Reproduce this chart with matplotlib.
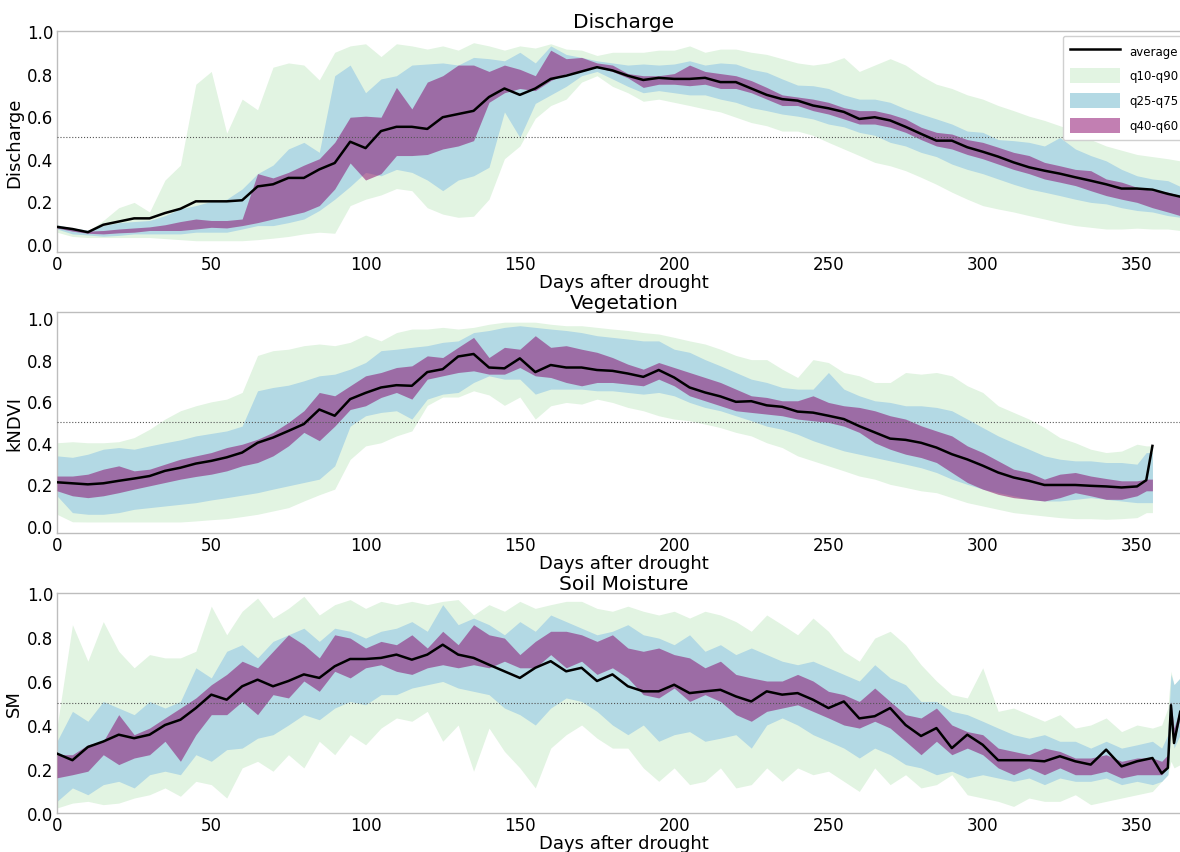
import matplotlib
matplotlib.use("Agg")
import matplotlib.pyplot as plt
from matplotlib.patches import Patch
from matplotlib.lines import Line2D

# ---------------- Discharge ----------------
dis_days = list(range(0, 361, 5)) + [364]
dis_avg = [0.08, 0.07, 0.055, 0.09, 0.105, 0.12, 0.12, 0.145, 0.165, 0.20,
           0.20, 0.20, 0.205, 0.27, 0.28, 0.31, 0.31, 0.35, 0.38, 0.48,
           0.45, 0.53, 0.55, 0.55, 0.54, 0.595, 0.61, 0.625, 0.69, 0.73,
           0.70, 0.73, 0.775, 0.79, 0.81, 0.83, 0.815, 0.79, 0.77, 0.78,
           0.775, 0.775, 0.78, 0.76, 0.76, 0.73, 0.70, 0.68, 0.673, 0.65,
           0.637, 0.62, 0.587, 0.595, 0.58, 0.55, 0.517, 0.485, 0.485, 0.454,
           0.433, 0.41, 0.383, 0.36, 0.344, 0.33, 0.313, 0.297, 0.28, 0.26,
           0.26, 0.255, 0.235, 0.222]
dis_q10 = [0.055, 0.035, 0.03, 0.03, 0.03, 0.03, 0.03, 0.025, 0.02, 0.015,
           0.015, 0.015, 0.015, 0.02, 0.027, 0.035, 0.047, 0.055, 0.05, 0.18,
           0.21, 0.23, 0.26, 0.25, 0.17, 0.14, 0.125, 0.13, 0.21, 0.40,
           0.46, 0.59, 0.65, 0.68, 0.76, 0.79, 0.74, 0.71, 0.67, 0.68,
           0.665, 0.65, 0.634, 0.62, 0.595, 0.57, 0.555, 0.53, 0.53, 0.51,
           0.477, 0.446, 0.415, 0.383, 0.367, 0.344, 0.313, 0.28, 0.243, 0.21,
           0.18, 0.164, 0.15, 0.133, 0.117, 0.10, 0.086, 0.078, 0.07, 0.07,
           0.074, 0.07, 0.07, 0.063]
dis_q25 = [0.07, 0.047, 0.042, 0.036, 0.04, 0.047, 0.047, 0.047, 0.047, 0.055,
           0.055, 0.055, 0.07, 0.086, 0.086, 0.10, 0.117, 0.157, 0.21, 0.27,
           0.336, 0.32, 0.35, 0.336, 0.30, 0.25, 0.30, 0.32, 0.36, 0.62,
           0.50, 0.66, 0.70, 0.74, 0.79, 0.81, 0.775, 0.74, 0.71, 0.72,
           0.71, 0.70, 0.70, 0.68, 0.665, 0.64, 0.626, 0.61, 0.60, 0.587,
           0.563, 0.55, 0.524, 0.51, 0.477, 0.46, 0.43, 0.41, 0.375, 0.35,
           0.33, 0.305, 0.28, 0.258, 0.243, 0.227, 0.21, 0.195, 0.188, 0.17,
           0.157, 0.15, 0.133, 0.125]
dis_q40 = [0.075, 0.06, 0.05, 0.047, 0.052, 0.055, 0.063, 0.063, 0.063, 0.07,
           0.078, 0.075, 0.086, 0.10, 0.117, 0.133, 0.15, 0.18, 0.258, 0.38,
           0.30, 0.33, 0.415, 0.415, 0.42, 0.446, 0.46, 0.485, 0.665, 0.71,
           0.73, 0.72, 0.767, 0.80, 0.81, 0.83, 0.81, 0.78, 0.735, 0.75,
           0.75, 0.743, 0.75, 0.73, 0.73, 0.71, 0.68, 0.65, 0.65, 0.626,
           0.61, 0.587, 0.563, 0.563, 0.548, 0.524, 0.49, 0.46, 0.446, 0.42,
           0.40, 0.375, 0.35, 0.33, 0.305, 0.29, 0.274, 0.25, 0.227, 0.21,
           0.195, 0.17, 0.15, 0.133]
dis_q60 = [0.085, 0.07, 0.06, 0.063, 0.07, 0.075, 0.08, 0.09, 0.105, 0.117,
           0.11, 0.11, 0.117, 0.33, 0.31, 0.336, 0.37, 0.40, 0.477, 0.595,
           0.60, 0.595, 0.735, 0.634, 0.76, 0.79, 0.84, 0.84, 0.81, 0.84,
           0.82, 0.79, 0.91, 0.87, 0.876, 0.85, 0.84, 0.80, 0.79, 0.79,
           0.80, 0.84, 0.81, 0.80, 0.79, 0.767, 0.735, 0.70, 0.69, 0.68,
           0.665, 0.64, 0.626, 0.626, 0.61, 0.587, 0.548, 0.524, 0.516, 0.49,
           0.477, 0.454, 0.43, 0.415, 0.383, 0.367, 0.35, 0.344, 0.305, 0.29,
           0.266, 0.25, 0.243, 0.227]
dis_q75 = [0.09, 0.075, 0.065, 0.086, 0.10, 0.105, 0.11, 0.133, 0.165, 0.18,
           0.20, 0.21, 0.258, 0.33, 0.37, 0.446, 0.477, 0.43, 0.79, 0.84,
           0.71, 0.775, 0.79, 0.84, 0.845, 0.85, 0.84, 0.876, 0.87, 0.86,
           0.90, 0.85, 0.93, 0.89, 0.876, 0.86, 0.85, 0.84, 0.845, 0.84,
           0.845, 0.86, 0.84, 0.85, 0.845, 0.82, 0.806, 0.775, 0.746, 0.743,
           0.73, 0.70, 0.68, 0.68, 0.665, 0.634, 0.61, 0.587, 0.563, 0.53,
           0.524, 0.49, 0.485, 0.477, 0.46, 0.50, 0.446, 0.415, 0.39, 0.35,
           0.32, 0.305, 0.297, 0.27]
dis_q90 = [0.09, 0.07, 0.06, 0.11, 0.17, 0.195, 0.15, 0.30, 0.37, 0.75,
           0.81, 0.52, 0.68, 0.63, 0.83, 0.85, 0.84, 0.77, 0.90, 0.93,
           0.94, 0.88, 0.94, 0.93, 0.915, 0.93, 0.91, 0.945, 0.93, 0.91,
           0.93, 0.92, 0.94, 0.915, 0.91, 0.885, 0.90, 0.90, 0.90, 0.91,
           0.91, 0.93, 0.90, 0.915, 0.915, 0.90, 0.89, 0.87, 0.85, 0.84,
           0.85, 0.875, 0.81, 0.84, 0.87, 0.84, 0.79, 0.75, 0.73, 0.70,
           0.68, 0.65, 0.626, 0.60, 0.58, 0.555, 0.53, 0.49, 0.46, 0.44,
           0.42, 0.41, 0.40, 0.39]

# ---------------- Vegetation ----------------
veg_days = list(range(0, 351, 5)) + [353, 355]
veg_avg = [0.21, 0.205, 0.20, 0.205, 0.217, 0.228, 0.24, 0.265, 0.28, 0.30,
           0.313, 0.33, 0.353, 0.40, 0.425, 0.457, 0.49, 0.56, 0.53, 0.61,
           0.64, 0.666, 0.677, 0.674, 0.74, 0.754, 0.815, 0.827, 0.762, 0.758,
           0.806, 0.74, 0.774, 0.762, 0.762, 0.75, 0.746, 0.733, 0.717, 0.75,
           0.714, 0.666, 0.642, 0.623, 0.597, 0.60, 0.58, 0.573, 0.55, 0.545,
           0.53, 0.514, 0.48, 0.45, 0.42, 0.414, 0.40, 0.377, 0.345, 0.32,
           0.29, 0.257, 0.233, 0.217, 0.197, 0.197, 0.197, 0.193, 0.19, 0.185,
           0.19, 0.22, 0.385]
veg_q10 = [0.056, 0.02, 0.019, 0.019, 0.019, 0.019, 0.019, 0.019, 0.019, 0.024,
           0.03, 0.035, 0.045, 0.056, 0.072, 0.088, 0.12, 0.15, 0.177, 0.32,
           0.385, 0.40, 0.433, 0.457, 0.58, 0.62, 0.62, 0.65, 0.63, 0.58,
           0.62, 0.514, 0.578, 0.594, 0.586, 0.61, 0.594, 0.57, 0.554, 0.53,
           0.514, 0.506, 0.49, 0.473, 0.45, 0.433, 0.40, 0.377, 0.337, 0.313,
           0.289, 0.265, 0.24, 0.225, 0.20, 0.185, 0.169, 0.16, 0.136, 0.112,
           0.096, 0.08, 0.064, 0.056, 0.048, 0.04, 0.035, 0.035, 0.032, 0.035,
           0.04, 0.064, 0.064]
veg_q25 = [0.145, 0.064, 0.056, 0.056, 0.064, 0.08, 0.088, 0.096, 0.104, 0.112,
           0.125, 0.136, 0.148, 0.16, 0.177, 0.193, 0.209, 0.225, 0.289, 0.48,
           0.53, 0.546, 0.554, 0.514, 0.61, 0.634, 0.642, 0.69, 0.722, 0.706,
           0.706, 0.634, 0.658, 0.658, 0.658, 0.65, 0.65, 0.642, 0.634, 0.642,
           0.626, 0.594, 0.57, 0.554, 0.53, 0.506, 0.48, 0.465, 0.441, 0.41,
           0.385, 0.361, 0.345, 0.329, 0.313, 0.297, 0.28, 0.257, 0.225, 0.20,
           0.177, 0.16, 0.145, 0.128, 0.12, 0.12, 0.128, 0.136, 0.128, 0.12,
           0.112, 0.112, 0.112]
veg_q40 = [0.169, 0.145, 0.136, 0.145, 0.16, 0.177, 0.193, 0.209, 0.225, 0.238,
           0.249, 0.265, 0.289, 0.305, 0.337, 0.385, 0.45, 0.41, 0.48, 0.56,
           0.578, 0.618, 0.642, 0.61, 0.706, 0.722, 0.738, 0.746, 0.73, 0.73,
           0.762, 0.722, 0.714, 0.69, 0.674, 0.69, 0.69, 0.682, 0.674, 0.706,
           0.674, 0.626, 0.602, 0.578, 0.554, 0.546, 0.538, 0.53, 0.514, 0.506,
           0.498, 0.48, 0.45, 0.40, 0.369, 0.345, 0.329, 0.305, 0.257, 0.209,
           0.177, 0.152, 0.136, 0.128, 0.12, 0.136, 0.16, 0.145, 0.128, 0.128,
           0.145, 0.169, 0.169]
veg_q60 = [0.24, 0.24, 0.249, 0.273, 0.289, 0.265, 0.273, 0.297, 0.321, 0.337,
           0.353, 0.377, 0.393, 0.417, 0.45, 0.498, 0.554, 0.642, 0.626, 0.674,
           0.722, 0.738, 0.762, 0.77, 0.818, 0.81, 0.859, 0.907, 0.81, 0.859,
           0.85, 0.915, 0.859, 0.867, 0.85, 0.835, 0.81, 0.778, 0.754, 0.786,
           0.762, 0.738, 0.714, 0.69, 0.658, 0.626, 0.618, 0.602, 0.602, 0.626,
           0.594, 0.578, 0.57, 0.554, 0.53, 0.514, 0.482, 0.457, 0.433, 0.385,
           0.353, 0.313, 0.273, 0.257, 0.225, 0.249, 0.257, 0.24, 0.228, 0.217,
           0.217, 0.225, 0.225]
veg_q75 = [0.337, 0.33, 0.345, 0.369, 0.377, 0.369, 0.385, 0.40, 0.414, 0.433,
           0.445, 0.457, 0.48, 0.65, 0.666, 0.677, 0.698, 0.722, 0.73, 0.754,
           0.786, 0.843, 0.85, 0.859, 0.867, 0.883, 0.89, 0.93, 0.94, 0.955,
           0.963, 0.955, 0.947, 0.94, 0.93, 0.915, 0.907, 0.899, 0.89, 0.89,
           0.85, 0.835, 0.80, 0.77, 0.738, 0.706, 0.69, 0.666, 0.658, 0.658,
           0.738, 0.658, 0.626, 0.602, 0.594, 0.578, 0.578, 0.57, 0.554, 0.514,
           0.473, 0.433, 0.40, 0.369, 0.337, 0.321, 0.313, 0.313, 0.305, 0.305,
           0.297, 0.353, 0.353]
veg_q90 = [0.40, 0.405, 0.40, 0.40, 0.405, 0.425, 0.465, 0.514, 0.554, 0.578,
           0.597, 0.61, 0.642, 0.82, 0.843, 0.85, 0.867, 0.875, 0.867, 0.883,
           0.918, 0.89, 0.93, 0.947, 0.947, 0.955, 0.947, 0.955, 0.97, 0.98,
           0.98, 0.98, 0.97, 0.963, 0.963, 0.955, 0.947, 0.94, 0.93, 0.923,
           0.907, 0.89, 0.875, 0.85, 0.82, 0.80, 0.80, 0.754, 0.714, 0.80,
           0.786, 0.738, 0.722, 0.69, 0.69, 0.738, 0.73, 0.738, 0.722, 0.674,
           0.642, 0.578, 0.546, 0.514, 0.473, 0.425, 0.40, 0.369, 0.353, 0.36,
           0.393, 0.385, 0.385]

# ---------------- Soil Moisture ----------------
sm_days = list(range(0, 356, 5)) + [358, 360, 361, 362, 364]
sm_avg = [0.27, 0.24, 0.30, 0.325, 0.356, 0.34, 0.356, 0.40, 0.424, 0.477,
          0.538, 0.515, 0.576, 0.606, 0.576, 0.60, 0.63, 0.614, 0.667, 0.70,
          0.70, 0.705, 0.72, 0.697, 0.72, 0.765, 0.72, 0.705, 0.674, 0.644,
          0.614, 0.66, 0.69, 0.644, 0.66, 0.60, 0.63, 0.576, 0.553, 0.553,
          0.583, 0.545, 0.553, 0.56, 0.53, 0.507, 0.553, 0.538, 0.545, 0.515,
          0.477, 0.507, 0.43, 0.44, 0.477, 0.40, 0.35, 0.386, 0.295, 0.356,
          0.31, 0.24, 0.24, 0.24, 0.235, 0.258, 0.235, 0.22, 0.288, 0.212,
          0.235, 0.25, 0.18, 0.205, 0.49, 0.318, 0.46]
sm_q10 = [0.023, 0.045, 0.053, 0.038, 0.045, 0.068, 0.083, 0.114, 0.076, 0.144,
          0.129, 0.068, 0.205, 0.235, 0.19, 0.265, 0.205, 0.326, 0.265, 0.356,
          0.31, 0.386, 0.432, 0.417, 0.462, 0.326, 0.40, 0.19, 0.386, 0.28,
          0.205, 0.114, 0.295, 0.356, 0.40, 0.34, 0.295, 0.295, 0.205, 0.144,
          0.205, 0.129, 0.144, 0.205, 0.114, 0.129, 0.205, 0.144, 0.205, 0.174,
          0.19, 0.144, 0.098, 0.205, 0.129, 0.174, 0.114, 0.129, 0.174, 0.083,
          0.068, 0.053, 0.03, 0.068, 0.053, 0.053, 0.083, 0.038, 0.053, 0.068,
          0.083, 0.098, 0.144, 0.174, 0.235, 0.205, 0.22]
sm_q25 = [0.053, 0.114, 0.083, 0.129, 0.144, 0.114, 0.174, 0.19, 0.174, 0.265,
          0.235, 0.288, 0.295, 0.34, 0.356, 0.40, 0.447, 0.424, 0.477, 0.507,
          0.492, 0.538, 0.538, 0.568, 0.583, 0.598, 0.568, 0.553, 0.538, 0.477,
          0.447, 0.40, 0.477, 0.523, 0.507, 0.462, 0.40, 0.356, 0.40, 0.326,
          0.356, 0.37, 0.326, 0.34, 0.356, 0.295, 0.40, 0.432, 0.40, 0.356,
          0.326, 0.295, 0.25, 0.295, 0.265, 0.22, 0.205, 0.174, 0.19, 0.159,
          0.174, 0.159, 0.144, 0.159, 0.129, 0.159, 0.144, 0.144, 0.159, 0.129,
          0.144, 0.129, 0.144, 0.174, 0.386, 0.295, 0.356]
sm_q40 = [0.16, 0.174, 0.19, 0.265, 0.22, 0.25, 0.265, 0.326, 0.235, 0.356,
          0.447, 0.447, 0.507, 0.447, 0.538, 0.523, 0.60, 0.553, 0.644, 0.614,
          0.66, 0.674, 0.644, 0.63, 0.66, 0.674, 0.66, 0.674, 0.66, 0.69,
          0.66, 0.66, 0.72, 0.66, 0.69, 0.63, 0.66, 0.614, 0.538, 0.523,
          0.568, 0.507, 0.538, 0.507, 0.447, 0.417, 0.462, 0.477, 0.492, 0.462,
          0.432, 0.40, 0.386, 0.417, 0.386, 0.326, 0.265, 0.326, 0.265, 0.295,
          0.265, 0.205, 0.174, 0.205, 0.174, 0.205, 0.174, 0.174, 0.19, 0.159,
          0.174, 0.174, 0.174, 0.205, 0.477, 0.326, 0.432]
sm_q60 = [0.265, 0.265, 0.31, 0.326, 0.447, 0.356, 0.386, 0.432, 0.477, 0.523,
          0.583, 0.63, 0.69, 0.66, 0.735, 0.81, 0.765, 0.705, 0.81, 0.795,
          0.75, 0.78, 0.765, 0.81, 0.75, 0.826, 0.765, 0.856, 0.81, 0.795,
          0.72, 0.78, 0.826, 0.826, 0.81, 0.78, 0.81, 0.75, 0.735, 0.75,
          0.72, 0.705, 0.66, 0.69, 0.63, 0.614, 0.60, 0.60, 0.63, 0.60,
          0.553, 0.538, 0.507, 0.568, 0.507, 0.447, 0.432, 0.477, 0.40, 0.37,
          0.356, 0.295, 0.28, 0.265, 0.295, 0.28, 0.25, 0.25, 0.265, 0.235,
          0.25, 0.25, 0.235, 0.265, 0.507, 0.386, 0.477]
sm_q75 = [0.326, 0.462, 0.417, 0.507, 0.477, 0.447, 0.507, 0.477, 0.507, 0.66,
          0.614, 0.735, 0.765, 0.705, 0.78, 0.81, 0.84, 0.78, 0.84, 0.826,
          0.795, 0.826, 0.84, 0.87, 0.826, 0.947, 0.856, 0.886, 0.856, 0.81,
          0.87, 0.826, 0.90, 0.87, 0.84, 0.81, 0.826, 0.856, 0.81, 0.795,
          0.765, 0.81, 0.735, 0.765, 0.72, 0.75, 0.72, 0.69, 0.674, 0.69,
          0.66, 0.63, 0.60, 0.674, 0.614, 0.583, 0.507, 0.507, 0.462, 0.447,
          0.417, 0.386, 0.356, 0.34, 0.356, 0.326, 0.326, 0.295, 0.326, 0.295,
          0.31, 0.326, 0.295, 0.356, 0.63, 0.583, 0.614]
sm_q90 = [0.39, 0.856, 0.69, 0.87, 0.735, 0.66, 0.72, 0.705, 0.705, 0.735,
          0.94, 0.81, 0.917, 0.977, 0.886, 0.93, 0.985, 0.90, 0.947, 0.97,
          0.93, 0.962, 0.947, 0.962, 0.947, 0.962, 0.97, 0.90, 0.947, 0.917,
          0.962, 0.93, 0.947, 0.962, 0.962, 0.93, 0.917, 0.94, 0.917, 0.90,
          0.917, 0.886, 0.917, 0.90, 0.87, 0.826, 0.90, 0.856, 0.81, 0.886,
          0.826, 0.735, 0.69, 0.795, 0.826, 0.765, 0.674, 0.60, 0.538, 0.523,
          0.66, 0.462, 0.477, 0.447, 0.417, 0.447, 0.386, 0.40, 0.432, 0.37,
          0.40, 0.386, 0.40, 0.477, 0.644, 0.583, 0.614]

titles = ["Discharge", "Vegetation", "Soil Moisture"]
ylabels = ["Discharge", "kNDVI", "SM"]
xlabel = "Days after drought"
legend_labels = ["average", "q10-q90", "q25-q75", "q40-q60"]
yticks = [0.0, 0.2, 0.4, 0.6, 0.8, 1.0]
xticks = [0, 50, 100, 150, 200, 250, 300, 350]

panels = [
    (dis_days, dis_avg, dis_q10, dis_q25, dis_q40, dis_q60, dis_q75, dis_q90),
    (veg_days, veg_avg, veg_q10, veg_q25, veg_q40, veg_q60, veg_q75, veg_q90),
    (sm_days, sm_avg, sm_q10, sm_q25, sm_q40, sm_q60, sm_q75, sm_q90),
]

C_GREEN = "#e2f4e2"
C_BLUE = "#b3d9e4"
C_PURPLE = (135 / 255, 0.0, 103 / 255)
PURPLE_ALPHA = 0.5
SPINE = "#bdbdbd"

W, H = 1180, 853
fig = plt.figure(figsize=(W / 100, H / 100), dpi=100)

# pixel boxes (top, bottom) of each axes, and y-limits
boxes = [(32, 253), (313, 534), (594, 814)]
ylims = [(-0.038, 1.0), (-0.034, 1.029), (0.0, 1.0)]
LEFT, RIGHT = 57, 1191

for i, (box, ylim) in enumerate(zip(boxes, ylims)):
    top, bottom = box
    ax = fig.add_axes([LEFT / W, 1 - bottom / H, (RIGHT - LEFT) / W, (bottom - top) / H])
    days, avg, q10, q25, q40, q60, q75, q90 = panels[i]
    ax.fill_between(days, q10, q90, color=C_GREEN, linewidth=0, zorder=1)
    ax.fill_between(days, q25, q75, color=C_BLUE, linewidth=0, zorder=2)
    ax.fill_between(days, q40, q60, color=C_PURPLE, alpha=PURPLE_ALPHA,
                    linewidth=0, zorder=3)
    ax.axhline(0.5, color="#555555", linestyle=":", linewidth=0.8, zorder=4)
    ax.plot(days, avg, color="black", linewidth=1.8, zorder=5)

    ax.set_xlim(0, 367.5)
    ax.set_ylim(*ylim)
    ax.set_xticks(xticks)
    ax.set_yticks(yticks)
    ax.set_yticklabels([f"{t:.1f}" for t in yticks])
    ax.tick_params(length=0, labelsize=12)
    ax.tick_params(axis="x", pad=2.5)
    ax.tick_params(axis="y", pad=2.5)
    for s in ax.spines.values():
        s.set_color(SPINE)
        s.set_linewidth(1.0)
    ax.set_title(titles[i], fontsize=14.5, pad=3)
    ax.set_ylabel(ylabels[i], fontsize=13, labelpad=3)
    ax.set_xlabel(xlabel, fontsize=13, labelpad=-0.5)

    if i == 0:
        handles = [
            Line2D([], [], color="black", linewidth=1.8),
            Patch(facecolor=C_GREEN, edgecolor="none"),
            Patch(facecolor=C_BLUE, edgecolor="none"),
            Patch(facecolor=C_PURPLE, alpha=PURPLE_ALPHA, edgecolor="none"),
        ]
        leg = ax.legend(handles, legend_labels, loc="upper right", fontsize=8.5,
                        handlelength=4.2, handleheight=1.55, labelspacing=0.85,
                        borderpad=0.65, borderaxespad=0.4, framealpha=1.0,
                        edgecolor="#d0d0d0", fancybox=True)
        leg.set_zorder(10)

fig.savefig("out.png", dpi=100)
